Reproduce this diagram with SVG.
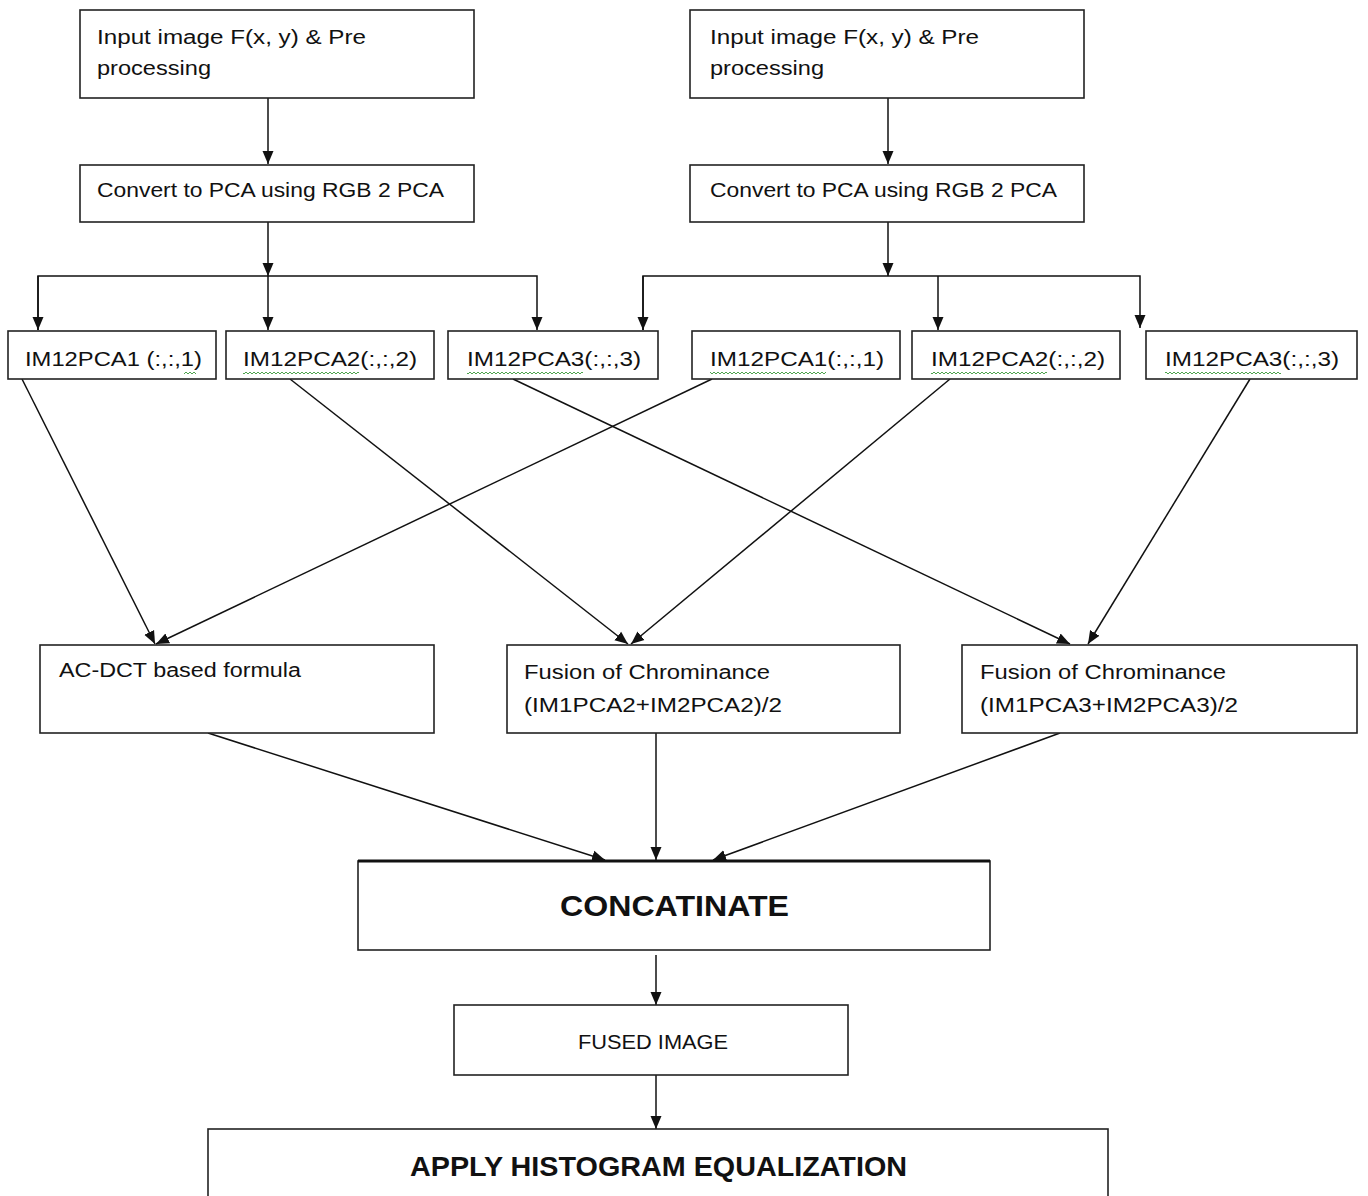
<svg xmlns="http://www.w3.org/2000/svg" width="1368" height="1196" viewBox="0 0 1368 1196">
<style>
.box{fill:#fff;stroke:#222;stroke-width:1.6}
.t{font-family:"Liberation Sans",Arial,sans-serif;font-size:20px;fill:#111}
.b{font-family:"Liberation Sans",Arial,sans-serif;font-weight:bold;fill:#111}
.c{stroke:#111;stroke-width:1.5;fill:none}
.sq{fill:url(#squig)}
</style>
<defs>
<marker id="ah" markerUnits="userSpaceOnUse" markerWidth="14" markerHeight="14" viewBox="0 0 14 14" refX="13" refY="7" orient="auto">
<path d="M0,1.5 L13,7 L0,12.5 Z" fill="#111"/>
</marker>
<pattern id="squig" patternUnits="userSpaceOnUse" width="4" height="4" x="0" y="371">
<path d="M0,3 L2,1 L4,3" stroke="#3a9a3a" stroke-width="0.9" fill="none"/>
</pattern>
</defs>
<rect width="1368" height="1196" fill="#fff"/>

<g id="connectors">
<line class="c" x1="268" y1="98" x2="268" y2="164" marker-end="url(#ah)"/>
<line class="c" x1="888" y1="98" x2="888" y2="164" marker-end="url(#ah)"/>
<line class="c" x1="268" y1="222" x2="268" y2="276" marker-end="url(#ah)"/>
<line class="c" x1="888" y1="222" x2="888" y2="276" marker-end="url(#ah)"/>
<polyline class="c" points="38,330 38,276 537,276 537,330" marker-end="url(#ah)"/>
<line class="c" x1="38" y1="276" x2="38" y2="330" marker-end="url(#ah)"/>
<line class="c" x1="268" y1="276" x2="268" y2="330" marker-end="url(#ah)"/>
<polyline class="c" points="643,330 643,276 1140,276 1140,328" marker-end="url(#ah)"/>
<line class="c" x1="643" y1="276" x2="643" y2="330" marker-end="url(#ah)"/>
<line class="c" x1="938" y1="276" x2="938" y2="330" marker-end="url(#ah)"/>
<line class="c" x1="22" y1="379" x2="155" y2="644" marker-end="url(#ah)"/>
<line class="c" x1="712" y1="379" x2="156" y2="644" marker-end="url(#ah)"/>
<line class="c" x1="290" y1="379" x2="628" y2="644" marker-end="url(#ah)"/>
<line class="c" x1="950" y1="379" x2="631" y2="644" marker-end="url(#ah)"/>
<line class="c" x1="513" y1="379" x2="1070" y2="644" marker-end="url(#ah)"/>
<line class="c" x1="1250" y1="379" x2="1088" y2="644" marker-end="url(#ah)"/>
<line class="c" x1="208" y1="733" x2="605" y2="860" marker-end="url(#ah)"/>
<line class="c" x1="656" y1="733" x2="656" y2="860" marker-end="url(#ah)"/>
<line class="c" x1="1060" y1="733" x2="713" y2="860" marker-end="url(#ah)"/>
<line class="c" x1="656" y1="955" x2="656" y2="1005" marker-end="url(#ah)"/>
<line class="c" x1="656" y1="1075" x2="656" y2="1129" marker-end="url(#ah)"/>
</g>

<g id="input1">
<rect class="box" x="80" y="10" width="394" height="88"/>
<text class="t" x="97" y="44" textLength="269" lengthAdjust="spacingAndGlyphs">Input image F(x, y) &amp; Pre</text>
<text class="t" x="97" y="75" textLength="114" lengthAdjust="spacingAndGlyphs">processing</text>
</g>
<g id="input2">
<rect class="box" x="690" y="10" width="394" height="88"/>
<text class="t" x="710" y="44" textLength="269" lengthAdjust="spacingAndGlyphs">Input image F(x, y) &amp; Pre</text>
<text class="t" x="710" y="75" textLength="114" lengthAdjust="spacingAndGlyphs">processing</text>
</g>
<g id="convert1">
<rect class="box" x="80" y="165" width="394" height="57"/>
<text class="t" x="97" y="197" textLength="347" lengthAdjust="spacingAndGlyphs">Convert to PCA using RGB  2 PCA</text>
</g>
<g id="convert2">
<rect class="box" x="690" y="165" width="394" height="57"/>
<text class="t" x="710" y="197" textLength="347" lengthAdjust="spacingAndGlyphs">Convert to PCA using RGB  2 PCA</text>
</g>

<g id="im1pca1">
<rect class="box" x="8" y="331" width="208" height="48"/>
<text class="t" x="25" y="366" textLength="177" lengthAdjust="spacingAndGlyphs">IM12PCA1 (:,:,1)</text>
<rect class="sq" x="184" y="371" width="12" height="4"/>
</g>
<g id="im1pca2">
<rect class="box" x="226" y="331" width="208" height="48"/>
<text class="t" x="243" y="366" textLength="174" lengthAdjust="spacingAndGlyphs">IM12PCA2(:,:,2)</text>
<rect class="sq" x="243" y="371" width="116" height="4"/>
</g>
<g id="im1pca3">
<rect class="box" x="448" y="331" width="210" height="48"/>
<text class="t" x="467" y="366" textLength="174" lengthAdjust="spacingAndGlyphs">IM12PCA3(:,:,3)</text>
<rect class="sq" x="467" y="371" width="116" height="4"/>
</g>
<g id="im2pca1">
<rect class="box" x="692" y="331" width="208" height="48"/>
<text class="t" x="710" y="366" textLength="174" lengthAdjust="spacingAndGlyphs">IM12PCA1(:,:,1)</text>
<rect class="sq" x="710" y="371" width="116" height="4"/>
</g>
<g id="im2pca2">
<rect class="box" x="912" y="331" width="208" height="48"/>
<text class="t" x="931" y="366" textLength="174" lengthAdjust="spacingAndGlyphs">IM12PCA2(:,:,2)</text>
<rect class="sq" x="931" y="371" width="116" height="4"/>
</g>
<g id="im2pca3">
<rect class="box" x="1146" y="331" width="211" height="48"/>
<text class="t" x="1165" y="366" textLength="174" lengthAdjust="spacingAndGlyphs">IM12PCA3(:,:,3)</text>
<rect class="sq" x="1165" y="371" width="116" height="4"/>
</g>

<g id="acdct">
<rect class="box" x="40" y="645" width="394" height="88"/>
<text class="t" x="59" y="677" textLength="242" lengthAdjust="spacingAndGlyphs">AC-DCT based formula</text>
</g>
<g id="fusion2">
<rect class="box" x="507" y="645" width="393" height="88"/>
<text class="t" x="524" y="679" textLength="246" lengthAdjust="spacingAndGlyphs">Fusion of Chrominance</text>
<text class="t" x="524" y="712" textLength="258" lengthAdjust="spacingAndGlyphs">(IM1PCA2+IM2PCA2)/2</text>
</g>
<g id="fusion3">
<rect class="box" x="962" y="645" width="395" height="88"/>
<text class="t" x="980" y="679" textLength="246" lengthAdjust="spacingAndGlyphs">Fusion of Chrominance</text>
<text class="t" x="980" y="712" textLength="258" lengthAdjust="spacingAndGlyphs">(IM1PCA3+IM2PCA3)/2</text>
</g>

<g id="concatinate">
<rect class="box" x="358" y="861" width="632" height="89"/>
<line x1="358" y1="861" x2="990" y2="861" stroke="#111" stroke-width="3"/>
<text class="b" x="560" y="916" font-size="30" textLength="229" lengthAdjust="spacingAndGlyphs">CONCATINATE</text>
</g>
<g id="fused">
<rect class="box" x="454" y="1005" width="394" height="70"/>
<text class="t" x="578" y="1049" font-size="19" textLength="150" lengthAdjust="spacingAndGlyphs">FUSED IMAGE</text>
</g>
<g id="histeq">
<rect class="box" x="208" y="1129" width="900" height="80"/>
<text class="b" x="410" y="1176" font-size="28" textLength="497" lengthAdjust="spacingAndGlyphs">APPLY HISTOGRAM EQUALIZATION</text>
</g>
</svg>
